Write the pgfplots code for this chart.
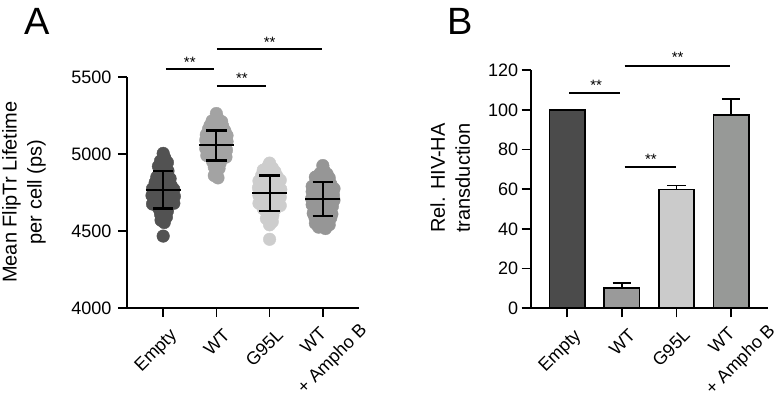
\documentclass[border=0pt]{standalone}
\usepackage{fontspec}
\setmainfont{Liberation Sans}
\usepackage{pgfplots}
\pgfplotsset{compat=1.18}
\definecolor{ptEmpty}{HTML}{525252}
\definecolor{ptWT}{HTML}{A3A3A3}
\definecolor{ptG}{HTML}{CDCDCD}
\definecolor{ptAm}{HTML}{969696}
\definecolor{barEmpty}{HTML}{4B4B4B}
\definecolor{barWT}{HTML}{9A9A9A}
\definecolor{barG}{HTML}{CBCBCB}
\definecolor{barAm}{HTML}{979997}
\tikzset{stars/.style={font=\fontsize{15}{15}\selectfont, anchor=base, yshift=-8.7pt, inner sep=0pt}}
\pgfplotsset{
  panel/.style={
    scale only axis, anchor=south west, clip=false, clip marker paths=true,
    axis lines*=left,
    axis line style={line width=1.6pt},
    tick style={line width=1.6pt, black},
    major tick length=9pt, tick align=outside,
    xtick={0,1,2},
    xticklabels={Empty, WT, G95L},
    xticklabel style={rotate=45, anchor=north east, align=center, font=\fontsize{18}{26}\selectfont, yshift=-8pt},
    extra x ticks={3},
    extra x tick labels={{WT\\+ Ampho B}},
    extra x tick style={xticklabel style={xshift=25pt, yshift=8pt}},
    yticklabel style={font=\fontsize{18}{20}\selectfont},
    /pgf/number format/assume math mode=true,
    /pgf/number format/set thousands separator={},
    ylabel style={align=center, anchor=center, font=\fontsize{20}{25}\selectfont},
  },
  mline/.style={black, line width=2.2pt},
  sig/.style={black, line width=1.6pt},
}
\begin{document}
\begin{tikzpicture}[x=1pt,y=1pt]
\path[use as bounding box] (0,0) rectangle (774,403);
\node[anchor=base west, inner sep=0pt, font=\fontsize{38}{38}\selectfont] at (24,368) {A};
\node[anchor=base west, inner sep=0pt, font=\fontsize{38}{38}\selectfont] at (447,368) {B};

% ---------------- Panel A ----------------
\begin{axis}[panel,
  at={(127pt,95pt)}, width=232pt, height=231pt,
  xmin=-0.68, xmax=3.68, ymin=4000, ymax=5500,
  ytick={4000,4500,5000,5500},
  yticklabel style={xshift=-3pt},
  ylabel={Mean FlipTr Lifetime\\per cell (ps)},
  ylabel style={at={(axis description cs:-0.444,0.502)}},
]
% Empty
\addplot[only marks, mark=*, mark size=6.3pt, mark options={fill=ptEmpty, draw=ptEmpty}] coordinates {
(0.00,5004) (0.03,4975) (-0.05,4955) (0.08,4945) (-0.09,4920) (0.05,4915)
(0.09,4890) (-0.06,4880) (0.00,4860) (-0.12,4850) (0.13,4840) (-0.15,4815)
(0.05,4810) (0.15,4795) (-0.08,4790) (-0.20,4775) (0.20,4770) (0.00,4770)
(-0.12,4750) (0.10,4745) (-0.21,4730) (0.21,4725) (0.02,4720) (-0.15,4700)
(0.16,4700) (-0.05,4690) (0.20,4680) (-0.20,4675) (0.05,4665) (-0.08,4645)
(0.08,4630) (-0.05,4610) (0.06,4590) (-0.04,4570) (0.02,4555) (0.00,4467)
};
% WT
\addplot[only marks, mark=*, mark size=6.3pt, mark options={fill=ptWT, draw=ptWT}] coordinates {
(1.00,5263) (1.02,5235) (0.92,5215) (1.10,5210) (0.88,5185) (1.12,5180)
(1.00,5190) (0.85,5160) (1.16,5150) (1.03,5150) (0.81,5125) (1.20,5120)
(0.95,5120) (1.08,5100) (0.80,5090) (1.20,5080) (1.00,5075) (0.88,5060)
(1.12,5050) (0.80,5035) (1.19,5025) (1.02,5030) (0.90,5005) (1.10,5000)
(0.82,4990) (1.18,4980) (1.00,4975) (0.93,4950) (1.07,4940) (0.96,4915)
(1.05,4905) (1.00,4880) (0.96,4860) (1.03,4845)
};
% G95L
\addplot[only marks, mark=*, mark size=6.3pt, mark options={fill=ptG, draw=ptG}] coordinates {
(2.00,4941) (1.97,4920) (2.05,4910) (1.88,4895) (2.10,4885) (2.00,4875)
(1.85,4860) (2.14,4855) (1.95,4845) (2.20,4830) (1.80,4825) (2.05,4815)
(1.90,4800) (2.15,4795) (1.79,4780) (2.21,4770) (2.00,4775) (1.86,4755)
(2.10,4745) (1.80,4730) (2.20,4720) (2.00,4715) (1.90,4700) (2.14,4690)
(1.80,4680) (2.20,4665) (2.02,4660) (1.88,4645) (2.10,4640) (1.95,4615)
(2.06,4600) (1.94,4580) (2.05,4560) (2.00,4540) (2.00,4446)
};
% WT + Ampho B
\addplot[only marks, mark=*, mark size=6.3pt, mark options={fill=ptAm, draw=ptAm}] coordinates {
(3.00,4925) (3.02,4895) (2.95,4875) (3.08,4870) (2.86,4850) (3.12,4845)
(3.00,4835) (2.90,4815) (3.15,4805) (2.80,4790) (3.05,4795) (3.21,4775)
(2.95,4770) (2.80,4755) (3.12,4755) (3.20,4735) (2.88,4730) (3.02,4720)
(2.79,4710) (3.21,4700) (3.08,4690) (2.90,4690) (2.80,4670) (3.18,4660)
(3.00,4660) (2.88,4640) (3.12,4635) (2.82,4615) (3.17,4610) (3.00,4610)
(2.85,4590) (3.15,4585) (2.95,4580) (3.08,4560) (2.86,4550) (3.12,4540)
(2.92,4525) (3.05,4516)
};
% mean and SD
\addplot[mline] coordinates {(-0.33,4768) (0.33,4768)};
\addplot[mline] coordinates {(-0.19,4892) (0.19,4892)};
\addplot[mline] coordinates {(-0.19,4646) (0.19,4646)};
\addplot[mline] coordinates {(0,4646) (0,4892)};
\addplot[mline] coordinates {(0.67,5056) (1.33,5056)};
\addplot[mline] coordinates {(0.81,5152) (1.19,5152)};
\addplot[mline] coordinates {(0.81,4958) (1.19,4958)};
\addplot[mline] coordinates {(1,4958) (1,5152)};
\addplot[mline] coordinates {(1.67,4748) (2.33,4748)};
\addplot[mline] coordinates {(1.81,4861) (2.19,4861)};
\addplot[mline] coordinates {(1.81,4632) (2.19,4632)};
\addplot[mline] coordinates {(2,4632) (2,4861)};
\addplot[mline] coordinates {(2.67,4708) (3.33,4708)};
\addplot[mline] coordinates {(2.81,4820) (3.19,4820)};
\addplot[mline] coordinates {(2.81,4599) (3.19,4599)};
\addplot[mline] coordinates {(3,4599) (3,4820)};
% significance
\addplot[sig] coordinates {(0.05,5550) (0.95,5550)};
\addplot[sig] coordinates {(1.01,5441) (1.93,5441)};
\addplot[sig] coordinates {(1.01,5680) (2.99,5680)};
\node[stars] at (axis cs:0.50,5615) {**};
\node[stars] at (axis cs:1.48,5513) {**};
\node[stars] at (axis cs:2.00,5745) {**};
\end{axis}

% ---------------- Panel B ----------------
\begin{axis}[panel,
  at={(530.7pt,94.7pt)}, width=237pt, height=238pt,
  xmin=-0.67, xmax=3.67, ymin=0, ymax=120,
  ytick={0,20,40,60,80,100,120},
  ylabel={Rel. HIV-HA\\transduction},
  ylabel style={at={(axis description cs:-0.34,0.547)}},
]
\addplot[ybar, bar width=0.65, bar shift=0pt, fill=barEmpty, draw=black, line width=1.6pt] coordinates {(0,100)};
\addplot[ybar, bar width=0.65, bar shift=0pt, fill=barWT, draw=black, line width=1.6pt] coordinates {(1,10.1)};
\addplot[ybar, bar width=0.65, bar shift=0pt, fill=barG, draw=black, line width=1.6pt] coordinates {(2,59.8)};
\addplot[ybar, bar width=0.65, bar shift=0pt, fill=barAm, draw=black, line width=1.6pt] coordinates {(3,97.5)};
% error bars (upper)
\addplot[sig] coordinates {(1,10.1) (1,12.9)};
\addplot[sig] coordinates {(0.83,12.9) (1.17,12.9)};
\addplot[sig] coordinates {(2,59.8) (2,62)};
\addplot[sig] coordinates {(1.83,62) (2.17,62)};
\addplot[sig] coordinates {(3,97.5) (3,105.5)};
\addplot[sig] coordinates {(2.83,105.5) (3.17,105.5)};
% significance
\addplot[sig] coordinates {(0.04,108.6) (0.965,108.6)};
\addplot[sig] coordinates {(1.05,71.1) (1.985,71.1)};
\addplot[sig] coordinates {(1.05,122.3) (2.98,122.3)};
\node[stars] at (axis cs:0.53,114.3) {**};
\node[stars] at (axis cs:1.53,76.8) {**};
\node[stars] at (axis cs:2.02,128.2) {**};
\end{axis}
\end{tikzpicture}
\end{document}
